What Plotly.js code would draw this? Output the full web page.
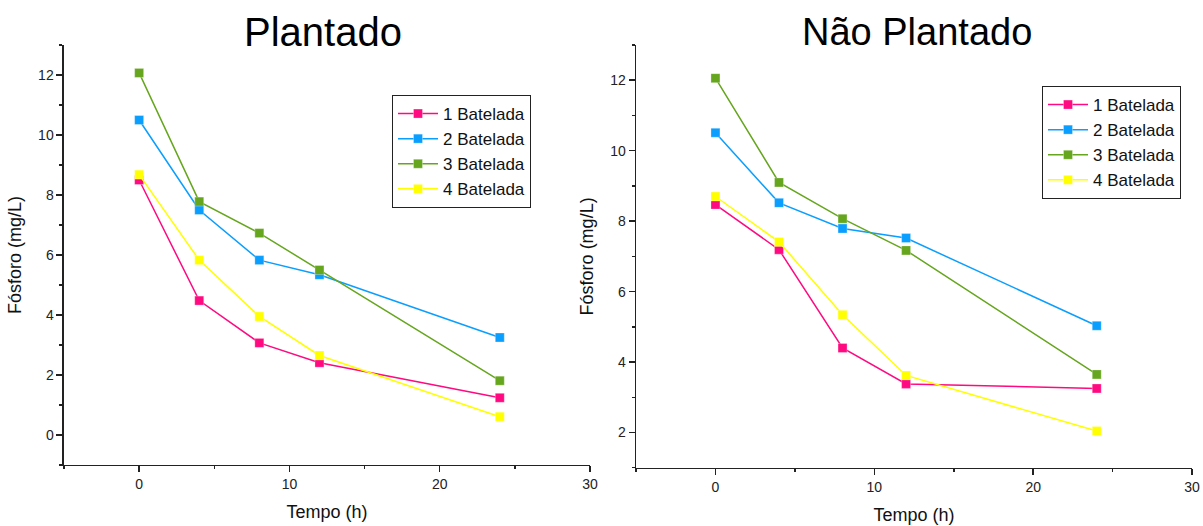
<!DOCTYPE html>
<html>
<head>
<meta charset="utf-8">
<script src="https://cdn.plot.ly/plotly-3.0.1.min.js"></script>
<style>html,body{margin:0;padding:0;background:#fff;}#chart{width:1203px;height:526px;}</style>
</head>
<body>
<div id="chart"></div>
<script>
const tempo = [0, 4, 8, 12, 24];
const seriesNames = ["1 Batelada", "2 Batelada", "3 Batelada", "4 Batelada"];
const colors = ["#FF0A80", "#0A9EFF", "#66A61E", "#FFFF00"];

const plantado1 = [8.5, 4.48, 3.07, 2.41, 1.24];
const plantado2 = [10.5, 7.5, 5.83, 5.34, 3.25];
const plantado3 = [12.07, 7.78, 6.73, 5.5, 1.81];
const plantado4 = [8.68, 5.83, 3.95, 2.65, 0.61];

const naoPlantado1 = [8.47, 7.19, 4.4, 3.38, 3.25];
const naoPlantado2 = [10.51, 8.52, 7.79, 7.52, 5.03];
const naoPlantado3 = [12.06, 9.1, 8.07, 7.17, 3.65];
const naoPlantado4 = [8.7, 7.41, 5.34, 3.62, 2.04];

const plantado = [plantado1, plantado2, plantado3, plantado4];
const naoPlantado = [naoPlantado1, naoPlantado2, naoPlantado3, naoPlantado4];

const traces = [];
function addTraces(sets, xa, ya, legendId) {
  sets.forEach((ys, i) => {
    traces.push({
      x: tempo, y: ys, type: 'scatter', mode: 'lines+markers',
      name: seriesNames[i], xaxis: xa, yaxis: ya, legend: legendId,
      line: {color: colors[i], width: 1.5},
      marker: {symbol: 'square', size: 9, color: colors[i], line: {width: 0.5, color: 'rgba(255,255,255,0.6)'}}
    });
  });
}
addTraces(plantado, 'x', 'y', 'legend');
addTraces(naoPlantado, 'x2', 'y2', 'legend2');

const fontFam = 'Liberation Sans, Arial, sans-serif';
function xax(domain, anchor) {
  return {
    domain: domain, anchor: anchor, range: [-5, 30], tickvals: [0, 10, 20, 30],
    ticks: 'outside', ticklen: 6, tickwidth: 1.5, tickcolor: '#222',
    minor: {tickvals: [-5, 5, 15, 25], ticks: 'outside', ticklen: 3, tickwidth: 1.5, tickcolor: '#222'},
    showline: true, linecolor: '#222', linewidth: 1.5, showgrid: false, zeroline: false,
    tickfont: {family: fontFam, size: 14, color: '#222'},
    title: {text: 'Tempo (h)', font: {family: fontFam, size: 18, color: '#111'}, standoff: 14}
  };
}
function yax(domain, anchor, range, tv, mv) {
  return {
    domain: domain, anchor: anchor, range: range, tickvals: tv,
    ticks: 'outside', ticklen: 6, tickwidth: 1.5, tickcolor: '#222',
    minor: {tickvals: mv, ticks: 'outside', ticklen: 3, tickwidth: 1.5, tickcolor: '#222'},
    showline: true, linecolor: '#222', linewidth: 1.5, showgrid: false, zeroline: false,
    tickfont: {family: fontFam, size: 14, color: '#222'},
    title: {text: 'Fósforo (mg/L)', font: {family: fontFam, size: 18, color: '#111'}, standoff: 12}
  };
}

const layout = {
  width: 1203, height: 526,
  margin: {l: 0, r: 0, t: 0, b: 0},
  paper_bgcolor: '#fff', plot_bgcolor: '#fff',
  font: {family: fontFam},
  showlegend: true,
  xaxis: xax([0.0532, 0.4904], 'y'),
  yaxis: yax([0.116, 0.9144], 'x', [-1, 13], [0, 2, 4, 6, 8, 10, 12], [-1, 1, 3, 5, 7, 9, 11, 13]),
  xaxis2: xax([0.5287, 0.9909], 'y2'),
  yaxis2: yax([0.1108, 0.9144], 'x2', [1, 13], [2, 4, 6, 8, 10, 12], [1, 3, 5, 7, 9, 11, 13]),
  legend: {
    x: 392/1203, y: 1 - 95/526, xanchor: 'left', yanchor: 'top',
    bordercolor: '#222', borderwidth: 1, bgcolor: '#fff',
    font: {family: fontFam, size: 17, color: '#111'},
    tracegroupgap: 0, itemwidth: 40
  },
  legend2: {
    x: 1042/1203, y: 1 - 86/526, xanchor: 'left', yanchor: 'top',
    bordercolor: '#222', borderwidth: 1, bgcolor: '#fff',
    font: {family: fontFam, size: 17, color: '#111'},
    tracegroupgap: 0, itemwidth: 40
  },
  annotations: [
    {text: 'Plantado', xref: 'paper', yref: 'paper', x: 323/1203, y: 1 - 32/526, xanchor: 'center', yanchor: 'middle', showarrow: false, font: {family: fontFam, size: 40, color: '#000'}},
    {text: 'Não Plantado', xref: 'paper', yref: 'paper', x: 917/1203, y: 1 - 32/526, xanchor: 'center', yanchor: 'middle', showarrow: false, font: {family: fontFam, size: 38, color: '#000'}}
  ]
};

Plotly.newPlot('chart', traces, layout, {displayModeBar: false, staticPlot: true});
</script>
</body>
</html>
